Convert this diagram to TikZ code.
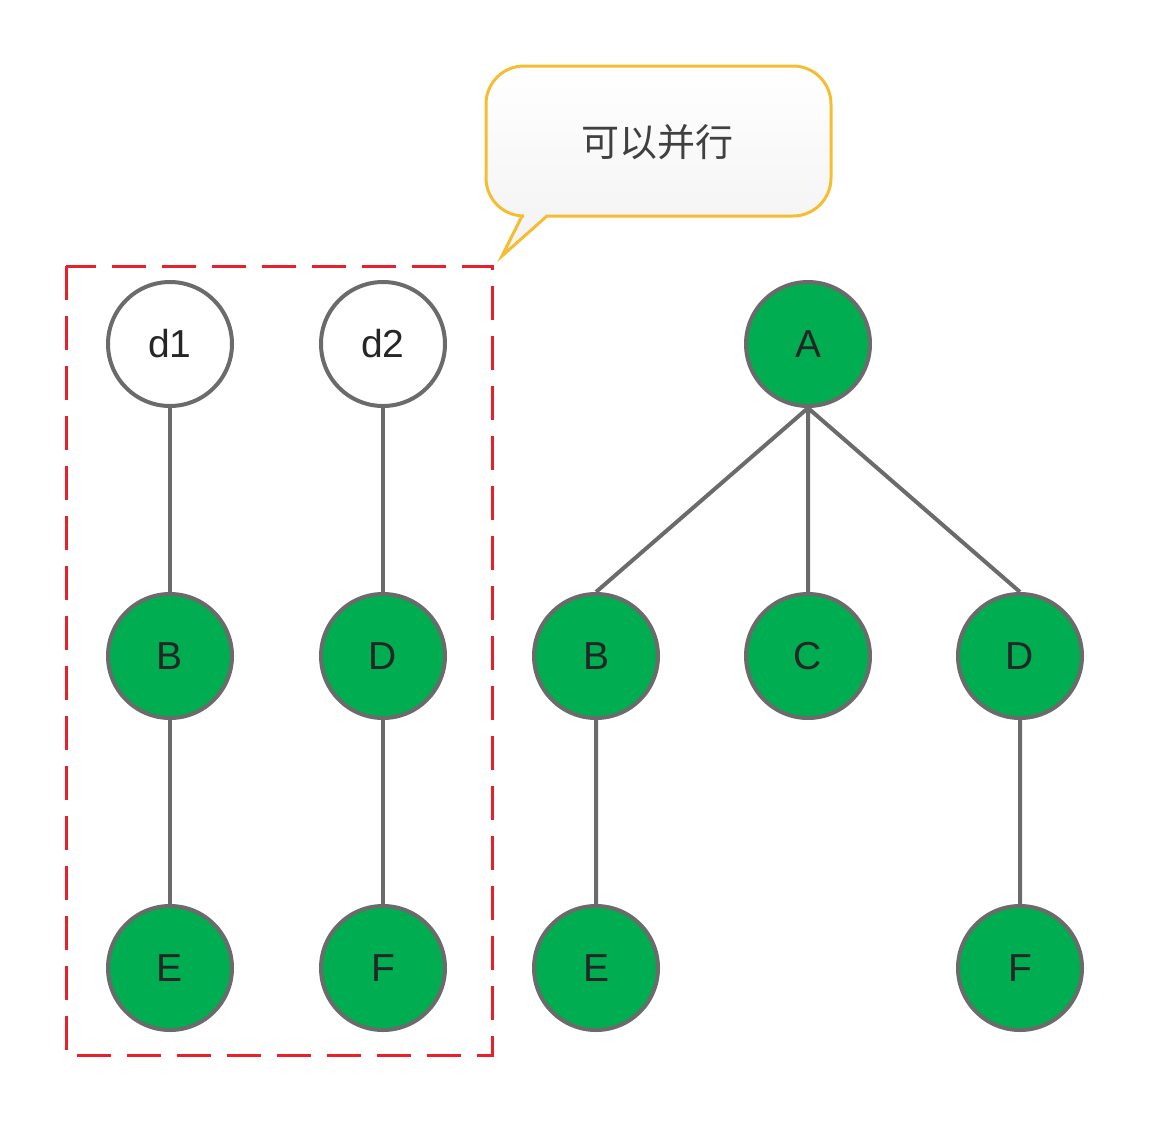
\documentclass[tikz,border=0pt]{standalone}
\usepackage{fontspec}
\setmainfont{Liberation Sans}
\newfontfamily\cjk{Noto Sans CJK SC}
\usetikzlibrary{shadings}
\definecolor{nodegreen}{HTML}{00AD50}
\definecolor{edgegrey}{HTML}{6B6B6B}
\definecolor{calloutborder}{HTML}{F5BE32}
\definecolor{dashred}{HTML}{E8202A}
\begin{document}
\begin{tikzpicture}[x=1pt,y=-1pt,
  treenode/.style={circle,draw=edgegrey,line width=4pt,minimum size=124pt,inner sep=0pt,font=\fontsize{39}{40}\selectfont,text=black!85},
  gnode/.style={treenode,fill=nodegreen},
  wnode/.style={treenode,fill=white},
  edge/.style={draw=edgegrey,line width=4pt}]
\useasboundingbox (0,0) rectangle (1151,1122);
% dashed group
\draw[dashred,line width=3pt,dash pattern=on 34pt off 16pt] (66,266) rectangle (492,1055);
% callout
\path[top color=white,bottom color=black!5,draw=calloutborder,line width=3pt,rounded corners=0pt]
  (522,216) -- (502,256) -- (547,216) [rounded corners=38pt] -- (831,216) -- (831,66) -- (486,66) -- (486,216) [rounded corners=0pt] -- cycle;
\node[font=\cjk\fontsize{38}{40}\selectfont,text=black!75] (callout) at (657,142) {可以并行};
% left group
\node[wnode] (d1) at (170,344) {d1};
\node[wnode] (d2) at (383,344) {d2};
\node[gnode] (B1) at (170,656) {B};
\node[gnode] (D1) at (383,656) {D};
\node[gnode] (E1) at (170,968) {E};
\node[gnode] (F1) at (383,968) {F};
% tree
\node[gnode] (A) at (808,344) {A};
\node[gnode] (B2) at (596,656) {B};
\node[gnode] (C2) at (808,656) {C};
\node[gnode] (D2) at (1020,656) {D};
\node[gnode] (E2) at (596,968) {E};
\node[gnode] (F2) at (1020,968) {F};
\path[edge] (d1) -- (B1) (B1) -- (E1) (d2) -- (D1) (D1) -- (F1);
\path[edge] (A.south) -- (B2.north) (A.south) -- (C2.north) (A.south) -- (D2.north)
  (B2) -- (E2) (D2) -- (F2);
\end{tikzpicture}
\end{document}
